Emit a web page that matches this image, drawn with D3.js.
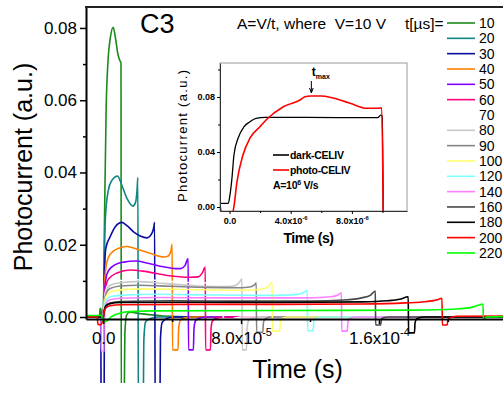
<!DOCTYPE html>
<html><head><meta charset="utf-8">
<script src="https://cdn.jsdelivr.net/npm/d3@7"></script>
<style>
html,body{margin:0;padding:0;background:#fff;}
svg{display:block;font-family:Arial,"Liberation Sans",sans-serif;}
</style></head><body>
<svg id="chart" width="503" height="394"></svg>
<script>
// Pulse lengths (µs) of the CELIV voltage ramps, one transient per pulse.
const pulseLengths = [10, 20, 30, 40, 50, 60, 70, 80, 90, 100, 120, 140, 160, 180, 200, 220];

// Transients: [time (µs), photocurrent (a.u.)]
const trace10 = [[-10,0],[-2.2,0],[-1.8,0.0024],[-1.3,0.002],[-1.0,0],[0,0],[0.6,0.022],[1.7,0.058],[2.8,0.071],[4.2,0.0775],[5.8,0.0802],[7.0,0.0775],[8.5,0.0728],[9.8,0.0708],[10.3,0.0704],[10.5,-0.03],[12.0,-0.03],[12.6,-0.004],[13.6,0.0006],[15.5,0.0013],[22,0.0009],[35,0.0003],[60,0],[232,0]];
const trace20 = [[-10,0],[0,0],[0.5,0.012],[1.2,0.027],[2.9,0.035],[5,0.0378],[8.3,0.039],[11,0.0362],[14,0.0326],[17.2,0.0307],[18.8,0.0318],[19.6,0.035],[20.1,0.0386],[20.4,-0.03],[23.1,-0.03],[23.6,-0.006],[24.6,-0.0013],[27.5,-0.0004],[32,0],[232,0]];
const trace30 = [[-10,0],[-1.4,0],[-1.2,-0.03],[0.5,-0.03],[0.7,0.012],[1.5,0.019],[4,0.0222],[7,0.025],[10.8,0.0262],[14,0.0252],[18,0.0234],[21.5,0.0224],[25.4,0.0219],[28.3,0.0232],[29.4,0.025],[29.8,0.0262],[30.2,-0.03],[32.8,-0.03],[33.2,-0.006],[34.2,-0.0015],[36.8,-0.0004],[41,0],[232,0]];
const trace40 = [[-10,0],[0,0],[0.6,0.008],[1.5,0.0135],[3,0.0165],[6,0.0183],[10,0.0192],[13.9,0.0195],[20,0.0187],[28,0.0175],[35,0.0166],[37.5,0.0168],[39.2,0.0182],[40,0.0202],[40.2,-0.0091],[43.4,-0.0091],[43.8,-0.003],[44.7,-0.001],[47,-0.0003],[52,0],[232,0]];
const trace50 = [[-10,0],[0,0],[0.6,0.006],[1.5,0.0105],[3,0.0128],[7,0.0145],[12,0.0152],[18.6,0.0155],[26,0.0149],[35,0.0139],[42,0.0134],[45,0.0134],[47.5,0.0143],[49.3,0.0162],[49.5,-0.0091],[52.3,-0.0091],[52.7,-0.003],[53.6,-0.001],[56,-0.0003],[61,0],[232,0]];
const trace60 = [[-10,0],[0,0],[0.6,0.005],[1.5,0.0085],[3,0.0105],[8,0.0122],[15.7,0.013],[23,0.0127],[37,0.0115],[50,0.011],[55,0.0111],[57.5,0.0122],[59.2,0.0138],[59.4,-0.0091],[62.2,-0.0091],[62.6,-0.003],[63.5,-0.001],[66,-0.0003],[71,0],[232,0]];
const trace70 = [[-10,0],[0,0],[0.6,0.0042],[1.5,0.0074],[4,0.0093],[10,0.0101],[22,0.0103],[40,0.0098],[60,0.0094],[66,0.0096],[68.5,0.0108],[69.6,0.0118],[69.8,-0.0091],[72.6,-0.0091],[73,-0.003],[74,-0.001],[76.5,-0.0003],[81,0],[232,0]];
const trace80 = [[-10,0],[0,0],[0.6,0.0036],[1.5,0.0068],[4,0.0088],[10,0.0095],[20,0.0098],[35,0.0093],[55,0.0086],[72,0.0084],[77,0.0088],[79.5,0.0099],[80.5,0.0106],[80.7,-0.0091],[83.1,-0.0091],[83.5,-0.003],[84.4,-0.001],[87,-0.0003],[92,0],[232,0]];
const trace90 = [[-10,0],[0,0],[0.6,0.0033],[1.5,0.0062],[4,0.0079],[10,0.0086],[20,0.0088],[40,0.0085],[60,0.0082],[80,0.0081],[85,0.0083],[87.8,0.0089],[88.8,0.0095],[89,-0.0042],[92.6,-0.0042],[93,-0.0015],[94,-0.0005],[97,0],[232,0]];
const trace100 = [[-10,0],[0,0],[0.6,0.003],[1.5,0.0055],[4,0.0069],[10,0.0075],[25,0.0078],[50,0.0076],[80,0.0074],[92,0.0077],[96,0.0085],[98,0.0097],[98.2,-0.0039],[102.4,-0.0039],[102.8,-0.0013],[103.8,-0.0004],[107,0],[232,0]];
const trace120 = [[-10,0],[0,0],[0.6,0.0025],[1.5,0.0045],[4,0.0056],[10,0.006],[30,0.0063],[60,0.0061],[100,0.006],[112,0.0062],[116,0.0067],[118.4,0.0074],[118.6,-0.0038],[121.8,-0.0038],[122.2,-0.0012],[123.2,-0.0004],[127,0],[232,0]];
const trace140 = [[-10,0],[-1.3,0],[-1.1,-0.0095],[0.3,-0.0095],[0.5,0.001],[1,0.0025],[1.8,0.0039],[4,0.0048],[10,0.0052],[30,0.0054],[70,0.0053],[120,0.0053],[132,0.0056],[136,0.006],[138.2,0.0067],[138.4,-0.0039],[141.6,-0.0039],[142,-0.0013],[143,-0.0004],[147,0],[232,0]];
const trace160 = [[-10,0],[0,0],[0.6,0.0018],[1.5,0.0032],[4,0.0039],[10,0.0043],[40,0.0045],[80,0.0044],[120,0.0044],[140,0.0047],[150,0.0053],[155,0.006],[157.9,0.0072],[158.1,-0.0022],[161,-0.0022],[161.4,-0.0008],[162.5,-0.0002],[166,0],[232,0]];
const trace180 = [[-10,0],[0,0],[0.6,0.0017],[1.5,0.003],[4,0.0037],[10,0.004],[50,0.0041],[100,0.004],[150,0.0042],[165,0.0045],[172,0.0049],[177,0.0056],[177.2,-0.0044],[180.6,-0.0044],[181,-0.0015],[182,-0.0005],[186,0],[232,0]];
const trace200 = [[-10,0],[-3.5,0],[-3.1,-0.0019],[-2,-0.0022],[-0.8,-0.0018],[-0.3,-0.0008],[0,0],[0.6,0.0015],[1.5,0.0025],[4,0.0031],[10,0.0034],[50,0.0035],[100,0.0035],[150,0.0036],[175,0.0039],[188,0.0043],[194,0.0048],[196.6,0.0052],[196.8,-0.0022],[199.6,-0.0022],[200,-0.0008],[201,-0.0003],[205,0.0002],[232,0.0003]];
const trace220 = [[-10,0.0004],[-1,0.0004],[-0.3,-0.0008],[0.5,-0.0013],[2,-0.0012],[4,-0.0002],[6,0.0004],[10,0.0011],[15,0.0015],[30,0.0017],[100,0.0018],[180,0.0019],[205,0.0022],[215,0.0028],[220.4,0.0036],[220.6,-0.0004],[221.6,-0.0004],[222.6,0],[232,0.0001]];

const traces = [trace10, trace20, trace30, trace40, trace50, trace60, trace70, trace80,
                trace90, trace100, trace120, trace140, trace160, trace180, trace200, trace220];
const traceColors = ["#1b8a1b", "#108585", "#0c0ca0", "#ff8000", "#8000ff", "#ff0080", "#ffffff", "#c8c8c8",
                     "#868686", "#ffff70", "#80ffff", "#ff80ff", "#474747", "#000000", "#ff0000", "#00ff00"];

// Inset: single 10 µs pulse, A = 10^6 V/s  [time (µs), current (a.u.)]
const darkCeliv = [[-0.62,0.0027],[-0.08,0.0027],[0.03,0.0087],[0.16,0.0209],[0.29,0.0378],[0.56,0.05],[0.95,0.0584],[1.34,0.062],[1.73,0.0645],[2.32,0.0652],[5,0.0651],[9.7,0.065],[9.88,0.0668],[9.98,0.0662],[10.05,-0.01]];
const photoCeliv = [[-0.62,0.0015],[-0.52,-0.004],[0.2,-0.004],[0.27,-0.001],[0.49,0.0184],[0.88,0.0378],[1.34,0.0502],[1.99,0.0584],[2.39,0.0633],[3.52,0.0729],[4.61,0.0778],[4.93,0.0802],[5.3,0.0807],[6.0,0.0807],[7.88,0.0754],[8.97,0.0718],[9.73,0.0718],[9.95,0.0722],[10.05,-0.01]];

// Axis ticks
const mainYTicks = [0, 0.02, 0.04, 0.06, 0.08];
const mainYMinor = [0.01, 0.03, 0.05, 0.07];
const mainXTicks = [0, 8e-5, 1.6e-4];
const mainXMinor = [4e-5, 1.2e-4, 2e-4];
const insetYTicks = [0, 0.04, 0.08];
const insetYMinor = [0.02, 0.06, 0.1];
const insetXTicks = [0, 4e-6, 8e-6];
const insetXMinor = [2e-6, 6e-6, 1e-5];

const svg = d3.select("#chart");
const FONT = "Arial, 'Liberation Sans', sans-serif";

// ---------- main panel ----------
const x = d3.scaleLinear().domain([-1.0e-5, 2.32e-4]).range([86, 503]);
const y = d3.scaleLinear().domain([-0.00055, 0.0858]).range([319, 7]);

svg.append("defs").append("clipPath").attr("id", "mainClip")
  .append("rect").attr("x", 86).attr("y", 7).attr("width", 417).attr("height", 376);

const line = d3.line()
  .x(d => x(d[0] * 1e-6))
  .y(d => y(d[1]))
  .curve(d3.curveMonotoneX);

svg.append("g").attr("clip-path", "url(#mainClip)")
  .selectAll("path").data(traces).join("path")
  .attr("d", line)
  .attr("fill", "none")
  .attr("stroke", (d, i) => traceColors[i])
  .attr("stroke-width", 1.6)
  .attr("stroke-linejoin", "round");

// axes
const yAxis = svg.append("g").attr("transform", "translate(86,0)")
  .call(d3.axisLeft(y).tickValues(mainYTicks).tickSize(6).tickSizeOuter(0).tickPadding(3)
    .tickFormat(d3.format(".2f")));
svg.append("g").attr("transform", "translate(86,0)")
  .call(d3.axisLeft(y).tickValues(mainYMinor).tickSize(3).tickSizeOuter(0).tickFormat(""))
  .select(".domain").remove();
yAxis.selectAll("text").attr("font-size", 17).attr("font-family", FONT).attr("fill", "#000");

const xAxis = svg.append("g").attr("transform", "translate(0,319)")
  .call(d3.axisBottom(x).tickValues(mainXTicks).tickSize(5).tickSizeOuter(0).tickPadding(8)
    .tickFormat(d => d === 0 ? "0.0" : ""));
svg.append("g").attr("transform", "translate(0,319)")
  .call(d3.axisBottom(x).tickValues(mainXMinor).tickSize(3).tickSizeOuter(0).tickFormat(""))
  .select(".domain").remove();
xAxis.selectAll("text").attr("font-size", 17).attr("font-family", FONT).attr("fill", "#000");

// scientific labels "m.mx10^e"
function sciLabel(sel, fs, bold) {
  sel.each(function(d) {
    if (d === 0) return;
    const e = Math.floor(Math.log10(d));
    const m = d / Math.pow(10, e);
    const t = d3.select(this).text(null);
    t.append("tspan").text(m.toFixed(1) + "x10");
    t.append("tspan").attr("dy", -fs * 0.45).attr("font-size", fs * 0.65).text(String(e));
    if (bold) t.attr("font-weight", "bold");
  });
}
xAxis.selectAll(".tick text").call(sciLabel, 17, false);

[yAxis, xAxis].forEach(a => {
  a.selectAll("line").attr("stroke", "#000").attr("stroke-width", 1.5);
  a.select(".domain").attr("stroke", "#000").attr("stroke-width", 2);
});
svg.selectAll(".tick line").attr("stroke", "#000").attr("stroke-width", 1.5);
// top frame edge
svg.append("line").attr("x1", 85).attr("x2", 503).attr("y1", y.range()[1]).attr("y2", y.range()[1])
  .attr("stroke", "#222").attr("stroke-width", 2);

// axis titles
svg.append("text").attr("transform", "translate(32,167) rotate(-90)")
  .attr("text-anchor", "middle").attr("font-size", 25).attr("font-family", FONT)
  .text("Photocurrent (a.u.)");
svg.append("text").attr("x", 297.5).attr("y", 378)
  .attr("text-anchor", "middle").attr("font-size", 25).attr("font-family", FONT)
  .text("Time (s)");

// annotations
svg.append("text").attr("x", 140).attr("y", 33).attr("font-size", 27).attr("font-family", FONT).text("C3");
svg.append("text").attr("x", 237).attr("y", 29).attr("font-size", 15.5).attr("font-family", FONT)
  .attr("xml:space", "preserve").text("A=V/t, where  V=10 V");
svg.append("text").attr("x", 405).attr("y", 29).attr("font-size", 15.5).attr("font-family", FONT)
  .text("t[\u00b5s]=");

// legend
const legend = svg.append("g");
pulseLengths.forEach((p, i) => {
  const cy = 23 + i * 15.33;
  legend.append("line").attr("x1", 447).attr("x2", 475).attr("y1", cy).attr("y2", cy)
    .attr("stroke", traceColors[i]).attr("stroke-width", 1.6);
  legend.append("text").attr("x", 479).attr("y", cy + 5).attr("font-size", 14)
    .attr("font-family", FONT).text(p);
});

// ---------- inset ----------
const ix = d3.scaleLinear().domain([-0.621e-6, 11.601e-6]).range([220, 407]);
const iy = d3.scaleLinear().domain([-0.0029, 0.1047]).range([211, 63]);
const inset = svg.append("g");

inset.append("rect").attr("x", 220).attr("y", 63).attr("width", 187).attr("height", 148)
  .attr("fill", "#fff").attr("stroke", "#9a9a9a").attr("stroke-width", 1);

svg.select("defs").append("clipPath").attr("id", "insetClip")
  .append("rect").attr("x", 220).attr("y", 63).attr("width", 187).attr("height", 148);

const iline = d3.line().x(d => ix(d[0] * 1e-6)).y(d => iy(d[1])).curve(d3.curveMonotoneX);
const ig = inset.append("g").attr("clip-path", "url(#insetClip)");
ig.append("path").datum(darkCeliv).attr("d", iline).attr("fill", "none")
  .attr("stroke", "#000").attr("stroke-width", 1.3);
ig.append("path").datum(photoCeliv).attr("d", iline).attr("fill", "none")
  .attr("stroke", "#ff0000").attr("stroke-width", 1.6);

const iyAxis = inset.append("g").attr("transform", "translate(220,0)")
  .call(d3.axisLeft(iy).tickValues(insetYTicks).tickSize(3).tickSizeOuter(0).tickPadding(2)
    .tickFormat(d3.format(".2f")));
inset.append("g").attr("transform", "translate(220,0)")
  .call(d3.axisLeft(iy).tickValues(insetYMinor).tickSize(2).tickSizeOuter(0).tickFormat(""))
  .select(".domain").remove();
const ixAxis = inset.append("g").attr("transform", "translate(0,211)")
  .call(d3.axisBottom(ix).tickValues(insetXTicks).tickSize(3).tickSizeOuter(0).tickPadding(4)
    .tickFormat(d => d === 0 ? "0.0" : ""));
inset.append("g").attr("transform", "translate(0,211)")
  .call(d3.axisBottom(ix).tickValues(insetXMinor).tickSize(2).tickSizeOuter(0).tickFormat(""))
  .select(".domain").remove();
[iyAxis, ixAxis].forEach(a => {
  a.selectAll("text").attr("font-size", 9).attr("font-weight", "bold").attr("font-family", FONT).attr("fill", "#000");
  a.select(".domain").attr("stroke", "#333").attr("stroke-width", 1);
});
ixAxis.selectAll(".tick text").call(sciLabel, 9, true);

inset.append("text").attr("transform", "translate(187,136) rotate(-90)")
  .attr("text-anchor", "middle").attr("font-size", 13).attr("font-family", FONT)
  .attr("textLength", 132).attr("lengthAdjust", "spacing")
  .text("Photocurrent (a.u.)");
inset.append("text").attr("x", 308.5).attr("y", 243).attr("text-anchor", "middle")
  .attr("font-size", 14).attr("font-weight", "bold").attr("font-family", FONT)
  .attr("letter-spacing", -0.4).text("Time (s)");

// t_max marker
const tmaxX = ix(5.35e-6);
inset.append("line").attr("x1", tmaxX).attr("x2", tmaxX).attr("y1", 81).attr("y2", 92)
  .attr("stroke", "#000").attr("stroke-width", 1);
inset.append("path").attr("d", `M${tmaxX - 1.8},88 L${tmaxX},93 L${tmaxX + 1.8},88`)
  .attr("fill", "none").attr("stroke", "#000").attr("stroke-width", 1);
const tm = inset.append("text").attr("x", tmaxX + 0.5).attr("y", 76)
  .attr("font-size", 12).attr("font-weight", "bold").attr("font-family", FONT);
tm.append("tspan").text("t");
tm.append("tspan").attr("dy", 3).attr("font-size", 7).text("max");

// inset legend
const ileg = [["dark-CELIV", "#000", 155], ["photo-CELIV", "#ff0000", 170]];
ileg.forEach(([label, col, cy]) => {
  inset.append("line").attr("x1", 273).attr("x2", 289).attr("y1", cy).attr("y2", cy)
    .attr("stroke", col).attr("stroke-width", 1.6);
  inset.append("text").attr("x", 290).attr("y", cy + 4).attr("font-size", 10.5)
    .attr("font-weight", "bold").attr("font-family", FONT).attr("letter-spacing", -0.3).text(label);
});
const aText = inset.append("text").attr("x", 273).attr("y", 189).attr("font-size", 10.5)
  .attr("font-weight", "bold").attr("font-family", FONT).attr("letter-spacing", -0.3);
aText.append("tspan").text("A=10");
aText.append("tspan").attr("dy", -4).attr("font-size", 7).text("6");
aText.append("tspan").attr("dy", 4).text(" V/s");
</script>
</body></html>
